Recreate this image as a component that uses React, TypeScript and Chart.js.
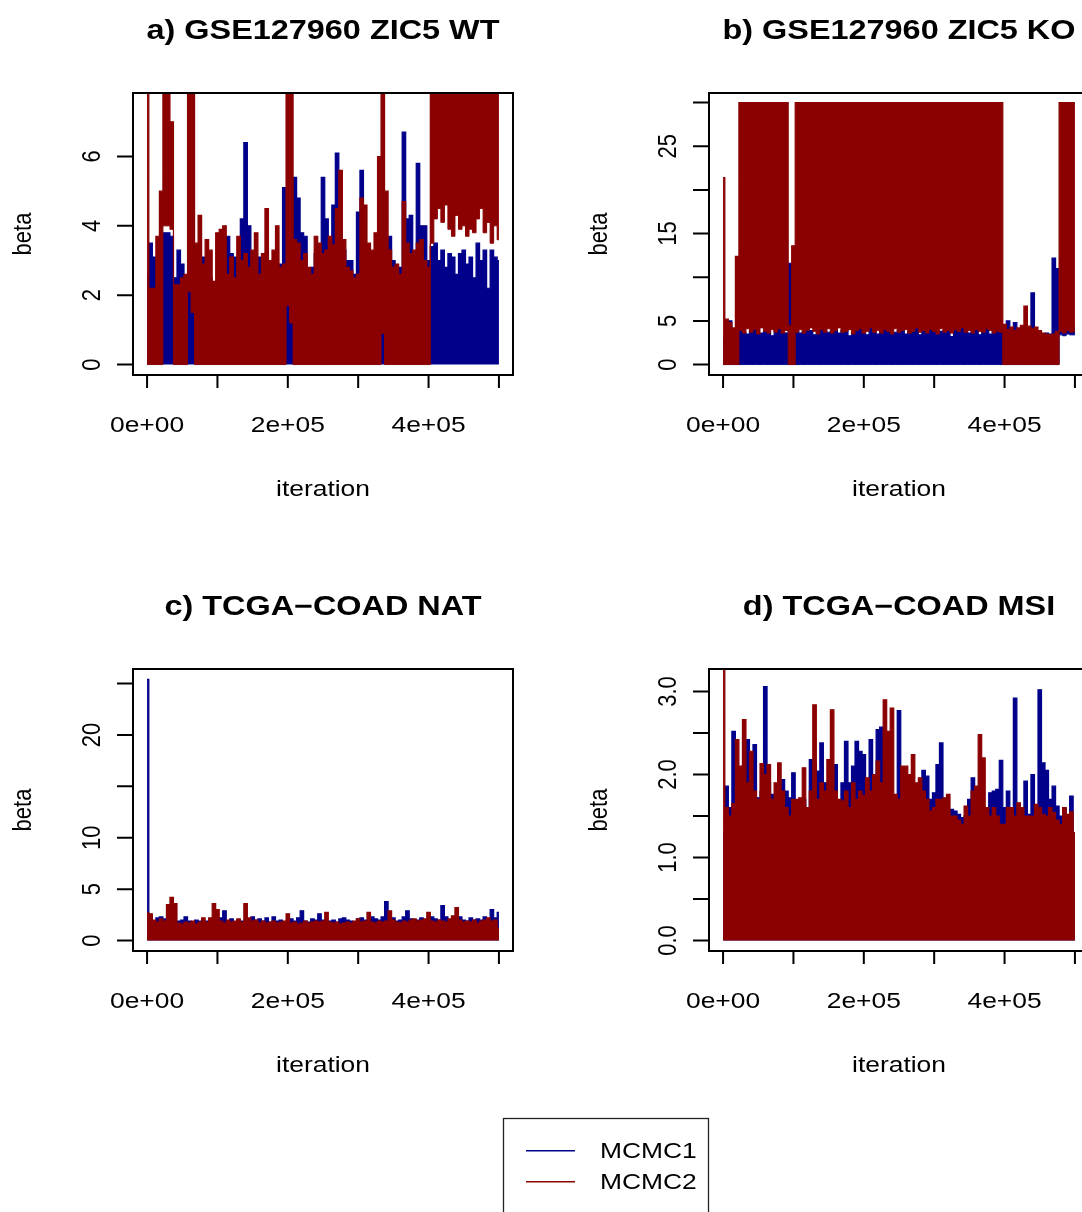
import React, { useEffect, useRef } from "react";
import { Chart, registerables } from "chart.js";

Chart.register(...registerables);

// ---------------- data ----------------
// iteration grid (one bin every 5000 iterations, 0 .. 500000)
const ITER_STEP = 5000;
const iterations: number[] = Array.from({ length: 101 }, (_, i) => i * ITER_STEP);

const xTickValues = [0, 100000, 200000, 300000, 400000, 500000];
const xTickLabels: Record<number, string> = { 0: "0e+00", 200000: "2e+05", 400000: "4e+05" };

// a) GSE127960 ZIC5 WT  (upper / lower envelope of each chain per bin)
const aBlueHigh = [
  2.6, 3.5, 3.1, 2.4, 2.5, 3.8, 3.8, 3.7, 2.5, 3.3,
  2.9, 2.3, 2.5, 2.2, 2.8, 2.8, 3.1, 2.8, 2.5, 2.2,
  2.4, 3.5, 2.9, 3.7, 3.2, 3.1, 2.8, 4.2, 6.4, 4.0,
  2.6, 2.9, 3.1, 2.7, 2.5, 2.6, 2.6, 2.8, 2.9, 5.1,
  2.2, 2.0, 5.4, 4.8, 3.8, 3.7, 2.5, 2.8, 3.2, 2.7,
  5.4, 4.2, 2.8, 4.6, 6.1, 3.4, 3.3, 3.0, 3.0, 2.6,
  4.4, 5.6, 3.0, 2.5, 2.6, 2.8, 2.7, 1.5, 2.5, 3.7,
  3.0, 2.8, 2.8, 6.7, 4.2, 4.3, 3.0, 5.8, 4.0, 4.0,
  3.0, 3.4, 3.5, 3.0, 3.3, 2.8, 3.2, 3.1, 2.6, 3.2,
  3.3, 2.9, 3.1, 2.5, 3.5, 3.0, 3.3, 2.2, 3.3, 3.1,
  3.0,
];
const aRedHigh = [
  9, 2.2, 2.2, 3.7, 5.0, 9, 9, 7.0, 2.3, 2.3,
  2.5, 2.6, 9, 8, 3.5, 4.3, 2.9, 3.6, 3.3, 2.4,
  3.8, 3.9, 4.0, 2.6, 3.1, 2.5, 3.7, 3.0, 3.2, 2.8,
  3.3, 3.8, 2.6, 3.2, 4.5, 3.0, 3.3, 4.0, 2.8, 2.9,
  9, 9, 3.6, 3.5, 3.0, 3.2, 2.8, 2.6, 3.7, 3.5,
  3.2, 3.3, 3.7, 3.45, 4.5, 5.6, 3.6, 2.8, 2.7, 2.5,
  2.6, 4.8, 4.6, 3.5, 3.3, 3.8, 6.0, 9, 5.0, 3.3,
  2.8, 2.9, 2.6, 4.7, 3.5, 3.2, 3.3, 3.5, 3.6, 3.0,
  2.8, 9, 9, 9, 9, 9, 9, 9, 9, 9,
  9, 9, 9, 9, 9, 9, 9, 9, 9, 9,
  9,
];
const aRedLow = [
  0, 0, 0, 0, 0, 4.0, 4.0, 3.9, 0, 0,
  0, 0, 2.1, 1.5, 0, 0, 0, 0, 0, 0,
  0, 0, 0, 0, 0, 0, 0, 0, 0, 0,
  0, 0, 0, 0, 0, 0, 0, 0, 0, 0,
  1.7, 1.2, 0, 0, 0, 0, 0, 0, 0, 0,
  0, 0, 0, 0, 0, 0, 0, 0, 0, 0,
  0, 0, 0, 0, 0, 0, 0, 0.9, 0, 0,
  0, 0, 0, 0, 0, 0, 0, 0, 0, 0,
  0, 3.5, 4.2, 4.5, 4.1, 4.6, 3.9, 3.7, 4.3, 3.9,
  4.0, 3.7, 3.9, 3.8, 4.2, 4.5, 3.8, 4.1, 3.5, 4.0,
  3.6,
];

// b) GSE127960 ZIC5 KO
const bBlueHigh = [
  3.0, 4.5, 5.0, 4.0, 3.8, 4.0, 3.7, 3.5, 3.9, 4.1,
  3.6, 3.6, 4.0, 3.8, 3.3, 3.9, 4.2, 3.7, 3.6, 11.6,
  4.0, 3.9, 3.6, 3.8, 4.1, 3.9, 3.4, 3.7, 4.2, 3.8,
  3.7, 3.8, 4.1, 3.6, 3.9, 4.0, 3.3, 3.7, 4.0, 4.2,
  3.9, 3.4, 4.3, 3.8, 3.5, 3.8, 4.1, 3.9, 3.6, 3.7,
  3.9, 4.0, 3.5, 3.8, 4.0, 4.3, 3.4, 4.0, 3.8, 4.1,
  3.9, 3.7, 3.8, 3.9, 4.0, 3.2, 4.1, 3.9, 4.3, 3.8,
  3.6, 3.8, 4.1, 3.4, 3.9, 4.2, 3.5, 3.8, 3.9, 3.8,
  4.4, 5.0, 4.0, 4.8, 3.8, 4.1, 4.0, 3.9, 8.2, 3.9,
  3.8, 3.4, 3.6, 3.5, 12.2, 11.0, 4.2, 4.0, 4.2, 4.1,
  4.3,
];
const bBlueLow = [
  0, 0, 0, 0, 0, 0, 0, 0, 0, 0,
  0, 0, 0, 0, 0, 0, 0, 0, 0, 0,
  0, 0, 0, 0, 0, 0, 0, 0, 0, 0,
  0, 0, 0, 0, 0, 0, 0, 0, 0, 0,
  0, 0, 0, 0, 0, 0, 0, 0, 0, 0,
  0, 0, 0, 0, 0, 0, 0, 0, 0, 0,
  0, 0, 0, 0, 0, 0, 0, 0, 0, 0,
  0, 0, 0, 0, 0, 0, 0, 0, 0, 0,
  0, 0, 0, 0, 0, 0, 0, 0, 0, 0,
  0, 0, 0, 0, 0, 0, 3.4, 3.3, 3.5, 3.4,
  3.4,
];
const bRedHigh = [
  21.4, 5.2, 4.8, 4.2, 12.4, 30, 30, 30, 30, 30,
  30, 30, 30, 30, 30, 30, 30, 30, 30, 4.5,
  13.6, 30, 30, 30, 30, 30, 30, 30, 30, 30,
  30, 30, 30, 30, 30, 30, 30, 30, 30, 30,
  30, 30, 30, 30, 30, 30, 30, 30, 30, 30,
  30, 30, 30, 30, 30, 30, 30, 30, 30, 30,
  30, 30, 30, 30, 30, 30, 30, 30, 30, 30,
  30, 30, 30, 30, 30, 30, 30, 30, 30, 30,
  4.6, 4.0, 4.3, 3.9, 4.2, 4.5, 6.7, 4.4, 4.1, 4.3,
  3.9, 3.6, 3.5, 3.4, 3.5, 3.8, 30, 30, 30, 30,
  30,
];
const bRedLow = [
  0, 0, 0, 0, 0, 3.9, 3.6, 4.1, 3.7, 4.0,
  3.5, 4.2, 3.8, 3.6, 4.0, 3.7, 4.1, 3.6, 3.9, 0,
  0, 3.7, 4.0, 3.6, 3.9, 4.2, 3.8, 3.5, 4.0, 3.7,
  4.1, 3.6, 3.9, 4.2, 3.7, 3.8, 4.0, 3.5, 3.9, 4.1,
  3.6, 3.8, 4.2, 3.7, 3.9, 3.6, 4.0, 3.8, 3.5, 4.1,
  3.7, 3.9, 4.0, 3.6, 3.8, 4.2, 3.7, 3.9, 3.6, 4.0,
  3.8, 3.5, 4.1, 3.7, 3.9, 3.6, 4.0, 3.8, 4.2, 3.7,
  3.9, 3.6, 4.0, 3.8, 3.7, 4.1, 3.9, 3.6, 3.8, 3.7,
  0, 0, 0, 0, 0, 0, 0, 0, 0, 0,
  0, 0, 0, 0, 0, 0, 3.8, 3.6, 3.9, 3.7,
  3.8,
];

// c) TCGA-COAD NAT
const cBlueHigh = [
  25.4, 2.4, 1.9, 2.2, 2.3, 2.1, 1.8, 2.0, 1.7, 1.9,
  2.0, 2.3, 1.9, 1.8, 2.0, 1.9, 1.8, 1.9, 1.7, 2.0,
  1.9, 2.2, 2.9, 1.9, 2.1, 1.8, 2.0, 1.9, 1.8, 2.1,
  2.3, 2.0, 2.1, 1.9, 2.2, 1.8, 2.3, 1.9, 2.0, 1.8,
  1.9, 2.1, 1.9, 2.2, 2.9, 1.9, 1.8, 2.1, 2.0, 2.6,
  2.0, 1.8, 1.9, 2.0, 1.8, 2.1, 2.2, 2.0, 1.9, 1.8,
  2.1, 2.2, 2.0, 2.0, 2.3, 2.1, 2.0, 2.3, 3.8, 2.1,
  2.2, 1.9, 2.0, 2.3, 2.9, 2.1, 1.9, 2.0, 2.2, 1.9,
  2.0, 2.3, 2.1, 2.0, 3.4, 2.3, 2.0, 1.9, 2.1, 2.3,
  2.0, 1.9, 2.2, 2.0, 2.1, 2.0, 2.3, 2.1, 3.0, 2.2,
  2.75,
];
const cRedHigh = [
  2.7, 2.6, 2.0, 1.8, 2.1, 1.9, 3.5, 4.2, 3.6, 1.7,
  1.6, 1.8, 1.7, 1.9, 1.6, 1.8, 2.2, 1.8, 2.2, 3.6,
  3.0, 1.9, 1.7, 2.0, 1.8, 1.9, 2.1, 1.8, 3.6, 2.2,
  1.9, 2.0, 1.7, 1.9, 1.7, 1.8, 1.9, 1.7, 1.8, 1.9,
  2.6, 1.7, 1.8, 1.6, 1.7, 1.9, 1.7, 1.8, 1.9, 1.8,
  1.9, 2.75, 1.8, 1.7, 1.8, 1.6, 1.7, 1.8, 1.7, 1.9,
  2.1, 1.8, 1.9, 2.75, 1.8, 1.7, 1.9, 1.8, 1.9, 2.9,
  2.0, 1.8, 1.7, 1.9, 1.8, 2.0, 2.1, 1.9, 2.0, 2.1,
  2.75, 1.9, 1.8, 2.0, 1.9, 1.8, 2.1, 2.4, 3.2, 2.0,
  1.8, 1.9, 1.8, 2.0, 1.7, 1.9, 2.0, 2.2, 1.9, 2.0,
  1.2,
];

// d) TCGA-COAD MSI
const dBlueHigh = [
  1.3, 1.86, 1.6, 2.52, 1.6, 1.8, 2.1, 2.42, 2.0, 2.36,
  1.72, 1.8, 3.06, 1.9, 1.76, 1.7, 1.88, 1.94, 1.8, 1.72,
  2.02, 1.6, 1.5, 1.7, 1.6, 2.18, 2.14, 2.04, 2.38, 1.9,
  1.7, 1.8, 2.12, 1.6, 1.9, 2.4, 1.9, 2.1, 2.4, 2.28,
  2.24, 1.8, 2.42, 1.9, 2.54, 2.57, 1.9, 1.8, 1.7, 1.6,
  2.77, 1.8, 1.8, 1.7, 1.6, 1.86, 1.7, 2.05, 1.98, 1.7,
  1.78, 2.12, 2.38, 1.6, 1.5, 1.58, 1.56, 1.52, 1.48, 1.5,
  1.7, 1.96, 1.6, 1.7, 1.6, 1.55, 1.78, 1.8, 1.82, 2.17,
  1.6, 1.8, 1.6, 2.92, 1.6, 1.55, 1.92, 1.52, 2.0, 1.6,
  3.02, 2.14, 2.05, 1.7, 1.86, 1.62, 1.5, 1.6, 1.5, 1.74,
  1.28,
];
const dRedHigh = [
  3.4, 1.6, 1.5, 1.65, 2.42, 2.1, 2.66, 1.9, 2.28, 1.8,
  1.7, 2.13, 2.0, 2.12, 1.7, 1.9, 2.14, 1.8, 1.6, 1.5,
  1.7, 1.7, 1.72, 2.08, 1.6, 1.8, 2.84, 1.7, 1.9, 1.8,
  2.18, 2.78, 1.8, 1.7, 1.68, 1.8, 1.6, 1.9, 1.7, 1.8,
  1.75, 1.96, 1.8, 2.0, 2.16, 1.9, 2.9, 2.52, 2.8, 1.76,
  1.7, 2.1, 2.1, 2.0, 2.24, 1.9, 1.96, 1.8, 1.7, 1.56,
  1.6, 1.7, 1.7, 1.72, 1.76, 1.5, 1.5, 1.45, 1.4, 1.62,
  1.5, 1.8, 1.86, 2.48, 2.2, 1.6, 1.5, 1.6, 1.5, 1.4,
  1.4, 1.6, 1.6, 1.5, 1.66, 1.6, 1.5, 1.5, 1.5, 1.64,
  1.6, 1.52, 1.5, 1.6, 1.54, 1.45, 1.4, 1.6, 1.52, 1.55,
  1.3,
];

const BLUE = "#00008B";
const RED = "#8B0000";

// ---------------- styling constants ----------------
const SX = 1.2; // horizontal stretch of the original raster
const AXIS_FONT = '22px "Liberation Sans", Arial, sans-serif';
const TITLE_FONT = 'bold 27px "Liberation Sans", Arial, sans-serif';
const LEGEND_FONT = '22px "Liberation Sans", Arial, sans-serif';
const PANEL = 576;

type PanelSpec = {
  title: string;
  yMin: number;
  yMax: number;
  yTicks: number[];
  yLabels: Record<string, string>;
  series: { color: string; high: number[]; low?: number[] }[]; // drawn bottom to top
};

function drawText(
  ctx: CanvasRenderingContext2D,
  text: string,
  x: number,
  y: number,
  font: string,
  rotate = false,
  align: CanvasTextAlign = "center"
) {
  ctx.save();
  ctx.translate(x, y);
  ctx.scale(SX, 1);
  if (rotate) ctx.rotate(-Math.PI / 2);
  ctx.font = font;
  ctx.textAlign = align;
  ctx.textBaseline = "alphabetic";
  ctx.fillStyle = "#000";
  ctx.fillText(text, 0, 0);
  ctx.restore();
}

const rPlot = {
  id: "rPlot",
  afterDraw(chart: any, _args: any, opts: any) {
    const { ctx, chartArea: ca, scales } = chart;
    const xs = scales.x;
    const ys = scales.y;
    ctx.save();
    ctx.strokeStyle = "#000";
    ctx.lineWidth = 2;
    ctx.lineCap = "butt";
    ctx.strokeRect(ca.left, ca.top, ca.right - ca.left, ca.bottom - ca.top);
    // x axis
    const xt: number[] = opts.xTicks;
    ctx.beginPath();
    ctx.moveTo(xs.getPixelForValue(xt[0]), ca.bottom);
    ctx.lineTo(xs.getPixelForValue(xt[xt.length - 1]), ca.bottom);
    for (const v of xt) {
      const p = xs.getPixelForValue(v);
      ctx.moveTo(p, ca.bottom);
      ctx.lineTo(p, ca.bottom + 13);
    }
    // y axis
    const yt: number[] = opts.yTicks;
    ctx.moveTo(ca.left, ys.getPixelForValue(yt[0]));
    ctx.lineTo(ca.left, ys.getPixelForValue(yt[yt.length - 1]));
    for (const v of yt) {
      const p = ys.getPixelForValue(v);
      ctx.moveTo(ca.left, p);
      ctx.lineTo(ca.left - 16, p);
    }
    ctx.stroke();
    ctx.restore();

    for (const v of xt) {
      const lab = opts.xLabels[v];
      if (lab) drawText(ctx, lab, xs.getPixelForValue(v), ca.bottom + 57, AXIS_FONT);
    }
    for (const v of yt) {
      const lab = opts.yLabels[String(v)];
      if (lab) drawText(ctx, lab, ca.left - 33.5, ys.getPixelForValue(v), AXIS_FONT, true);
    }
    const cx = (ca.left + ca.right) / 2;
    const cy = (ca.top + ca.bottom) / 2;
    drawText(ctx, "iteration", cx, ca.bottom + 121, AXIS_FONT);
    drawText(ctx, "beta", ca.left - 102, cy, AXIS_FONT, true);
    drawText(ctx, opts.title, cx, ca.top - 54, TITLE_FONT);
  },
};

function Panel({ spec, left, top }: { spec: PanelSpec; left: number; top: number }) {
  const ref = useRef<HTMLCanvasElement>(null);
  useEffect(() => {
    if (!ref.current) return;
    const datasets: any[] = [];
    // the last series in spec must be on top: Chart.js paints index 0 last
    const ordered = [...spec.series].reverse();
    ordered.forEach((s) => {
      const upperIndex = datasets.length;
      const hasLow = !!s.low;
      datasets.push({
        data: iterations.map((x, i) => ({ x, y: s.high[i] })),
        borderColor: s.color,
        backgroundColor: s.color,
        borderWidth: 1.2,
        pointRadius: 0,
        stepped: "middle",
        fill: hasLow ? upperIndex + 1 : "origin",
      });
      if (hasLow) {
        datasets.push({
          data: iterations.map((x, i) => ({ x, y: (s.low as number[])[i] })),
          borderColor: s.color,
          backgroundColor: s.color,
          borderWidth: 1,
          pointRadius: 0,
          stepped: "middle",
          fill: false,
        });
      }
    });
    const chart = new Chart(ref.current, {
      type: "line",
      data: { datasets },
      options: {
        animation: false,
        responsive: false,
        devicePixelRatio: 1,
        layout: { padding: { left: 133, top: 93, right: 63, bottom: 201 } },
        scales: {
          x: { type: "linear", min: -20000, max: 520000, display: false },
          y: { type: "linear", min: spec.yMin, max: spec.yMax, display: false },
        },
        plugins: {
          legend: { display: false },
          tooltip: { enabled: false },
          rPlot: {
            title: spec.title,
            xTicks: xTickValues,
            xLabels: xTickLabels,
            yTicks: spec.yTicks,
            yLabels: spec.yLabels,
          },
        } as any,
      },
      plugins: [rPlot as any],
    });
    return () => chart.destroy();
  }, [spec]);
  return (
    <canvas
      ref={ref}
      width={PANEL}
      height={PANEL}
      style={{ position: "absolute", left, top, width: PANEL, height: PANEL }}
    />
  );
}

const legendNames = ["MCMC1", "MCMC2"];
const legendColors = [BLUE, RED];

function Legend() {
  const ref = useRef<HTMLCanvasElement>(null);
  useEffect(() => {
    const c = ref.current;
    if (!c) return;
    const ctx = c.getContext("2d");
    if (!ctx) return;
    ctx.clearRect(0, 0, c.width, c.height);
    // canvas placed at (480, 1100)
    ctx.strokeStyle = "#222";
    ctx.lineWidth = 1.3;
    ctx.strokeRect(23.5, 18.5, 205, 200);
    legendNames.forEach((name, k) => {
      const y = 50.7 + k * 31;
      ctx.lineWidth = 1.6;
      ctx.strokeStyle = legendColors[k];
      ctx.beginPath();
      ctx.moveTo(46, y);
      ctx.lineTo(95, y);
      ctx.stroke();
      drawText(ctx, name, 120, y + 7.5, LEGEND_FONT, false, "left");
    });
  }, []);
  return (
    <canvas
      ref={ref}
      width={260}
      height={112}
      style={{ position: "absolute", left: 480, top: 1100, width: 260, height: 112 }}
    />
  );
}

const panels: { spec: PanelSpec; left: number; top: number }[] = [
  {
    left: 0,
    top: 0,
    spec: {
      title: "a) GSE127960 ZIC5 WT",
      yMin: -0.301,
      yMax: 7.831,
      yTicks: [0, 2, 4, 6],
      yLabels: { "0": "0", "2": "2", "4": "4", "6": "6" },
      series: [
        { color: BLUE, high: aBlueHigh },
        { color: RED, high: aRedHigh, low: aRedLow },
      ],
    },
  },
  {
    left: PANEL,
    top: 0,
    spec: {
      title: "b) GSE127960 ZIC5 KO",
      yMin: -1.196,
      yMax: 31.1,
      yTicks: [0, 5, 10, 15, 20, 25, 30],
      yLabels: { "0": "0", "5": "5", "15": "15", "25": "25" },
      series: [
        { color: BLUE, high: bBlueHigh, low: bBlueLow },
        { color: RED, high: bRedHigh, low: bRedLow },
      ],
    },
  },
  {
    left: 0,
    top: PANEL,
    spec: {
      title: "c) TCGA\u2212COAD NAT",
      yMin: -1.016,
      yMax: 26.416,
      yTicks: [0, 5, 10, 15, 20, 25],
      yLabels: { "0": "0", "5": "5", "10": "10", "20": "20" },
      series: [
        { color: BLUE, high: cBlueHigh },
        { color: RED, high: cRedHigh },
      ],
    },
  },
  {
    left: PANEL,
    top: PANEL,
    spec: {
      title: "d) TCGA\u2212COAD MSI",
      yMin: -0.1258,
      yMax: 3.2708,
      yTicks: [0, 0.5, 1, 1.5, 2, 2.5, 3],
      yLabels: { "0": "0.0", "1": "1.0", "2": "2.0", "3": "3.0" },
      series: [
        { color: BLUE, high: dBlueHigh },
        { color: RED, high: dRedHigh },
      ],
    },
  },
];

export default function App() {
  return (
    <div
      style={{
        position: "absolute",
        left: 0,
        top: 0,
        width: 1082,
        height: 1212,
        overflow: "hidden",
        background: "#fff",
      }}
    >
      {panels.map((p, i) => (
        <Panel key={i} spec={p.spec} left={p.left} top={p.top} />
      ))}
      <Legend />
    </div>
  );
}
